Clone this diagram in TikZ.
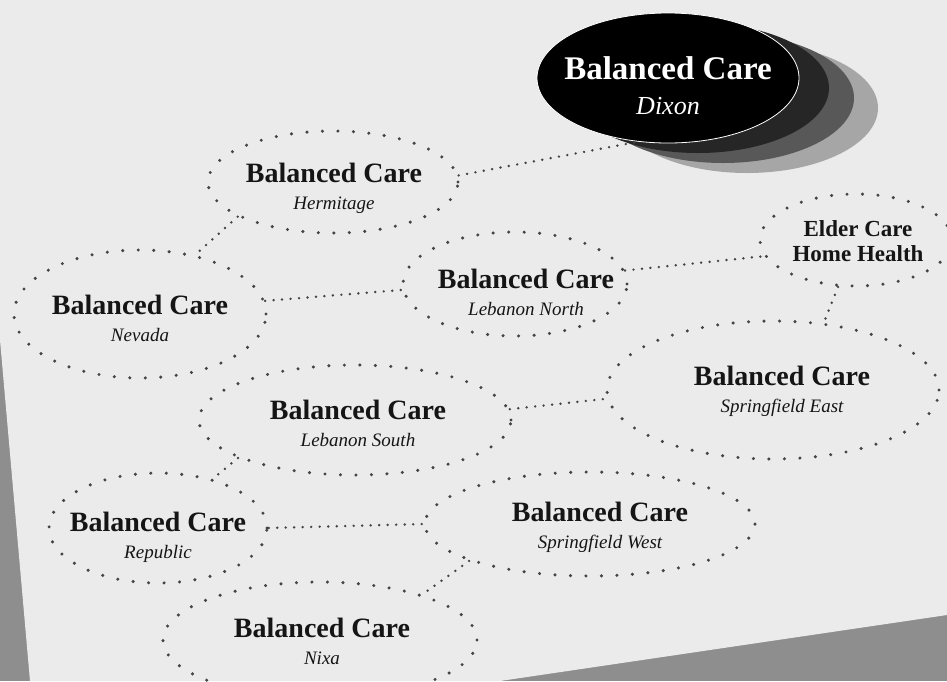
\documentclass[tikz,border=0pt]{standalone}
\usepackage{fontspec}
\setmainfont{Liberation Serif}
\usetikzlibrary{shapes.geometric}
\definecolor{paper}{HTML}{EBEBEB}
\definecolor{bgdark}{HTML}{8E8E8E}
\definecolor{dotc}{HTML}{444444}
\definecolor{ink}{HTML}{151515}
\definecolor{shadeA}{HTML}{262626}
\definecolor{shadeB}{HTML}{585858}
\definecolor{shadeC}{HTML}{A6A6A6}
\newcommand{\bcTitle}[1]{{\upshape\bfseries\fontsize{28}{27}\selectfont #1}}
\tikzset{
  bub/.style={ellipse, draw=dotc, line width=3.4pt, dash pattern=on 0pt off 15.5pt,
              line cap=round, inner sep=0pt},
  lbl/.style={align=center, text=ink, inner sep=0pt, font=\itshape\fontsize{19}{27}\selectfont},
  link/.style={draw=dotc, line width=2.7pt, dash pattern=on 0pt off 8.5pt, line cap=round},
  layer/.style={ellipse, inner sep=0pt, minimum width=262pt, minimum height=130pt},
}
\begin{document}
\begin{tikzpicture}[x=1pt,y=-1pt]
\useasboundingbox (0,0) rectangle (947,681);
% photo background and paper sheet
\fill[bgdark] (0,0) rectangle (947,681);
\fill[paper] (0,0) -- (947,0) -- (947,615) -- (500,681) -- (30,681) -- (0,340) -- cycle;

% Dixon stacked ellipses
\node[layer, fill=shadeC] (dl3) at (747,108) {};
\node[layer, fill=shadeB] (dl2) at (723,98) {};
\node[layer, fill=shadeA] (dl1) at (698,88) {};
\node[layer, fill=black, draw=white, line width=0.8pt] (dixon) at (668,78) {};
\node[lbl, text=white, font=\itshape\fontsize{26}{35}\selectfont] at (668,86)
  {{\upshape\bfseries\fontsize{33}{35}\selectfont Balanced Care}\\Dixon};

% dotted bubbles
\node[bub, minimum width=250pt, minimum height=102pt] (herm) at (333,182) {};
\node[bub, minimum width=252pt, minimum height=128pt] (nev)  at (140,314) {};
\node[bub, minimum width=224pt, minimum height=104pt] (lebn) at (515,284) {};
\node[bub, minimum width=192pt, minimum height=92pt]  (elder) at (856,240) {};
\node[bub, minimum width=332pt, minimum height=138pt] (spre) at (773,390) {};
\node[bub, minimum width=312pt, minimum height=110pt] (lebs) at (355,420) {};
\node[bub, minimum width=218pt, minimum height=110pt] (rep)  at (158,528) {};
\node[bub, minimum width=330pt, minimum height=104pt] (sprw) at (590,524) {};
\node[bub, minimum width=314pt, minimum height=116pt] (nixa) at (320,640) {};

% labels
\node[lbl] at (334,188) {\bcTitle{Balanced Care}\\Hermitage};
\node[lbl] at (140,318) {\bcTitle{Balanced Care}\\Nevada};
\node[lbl] at (526,292) {\bcTitle{Balanced Care}\\Lebanon North};
\node[lbl, font=\bfseries\fontsize{23}{25}\selectfont] at (858,241) {Elder Care\\Home Health};
\node[lbl] at (782,391) {\bcTitle{Balanced Care}\\Springfield East};
\node[lbl] at (358,423) {\bcTitle{Balanced Care}\\Lebanon South};
\node[lbl] at (158,537) {\bcTitle{Balanced Care}\\Republic};
\node[lbl] at (600,527) {\bcTitle{Balanced Care}\\Springfield West};
\node[lbl] at (322,641) {\bcTitle{Balanced Care}\\Nixa};

% connectors
\draw[link] (herm.3) -- (dixon.-115);
\draw[link] (herm.-160) -- (nev.47);
\draw[link] (nev.6) -- (lebn.183);
\draw[link] (lebn.7) -- (elder.190);
\draw[link] (elder.-111) -- (spre.53);
\draw[link] (lebs.4) -- (spre.183);
\draw[link] (lebs.-162) -- (rep.42);
\draw[link] (rep.east) -- (sprw.west);
\draw[link] (sprw.-163) -- (nixa.24);
\end{tikzpicture}
\end{document}
